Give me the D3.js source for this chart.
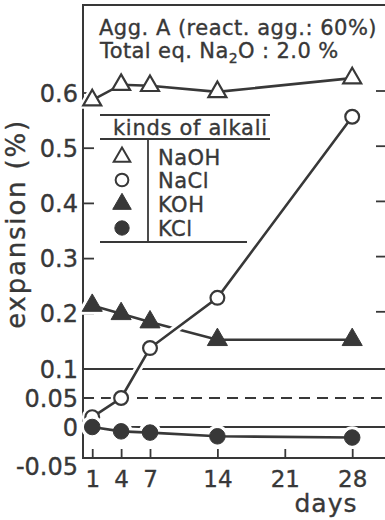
<!DOCTYPE html>
<html>
<head>
<meta charset="utf-8">
<script src="https://cdn.jsdelivr.net/npm/d3@7"></script>
<style>
  html, body { margin: 0; padding: 0; background: #fff; }
  svg { display: block; }
  text { font-family: "DejaVu Sans", sans-serif; fill: #383838; stroke: #383838; stroke-width: 0.35px; }
</style>
</head>
<body>
<svg id="chart" width="385" height="520"></svg>
<script>
// expansion (%) against age (days), one series per kind of alkali
var days = [1, 4, 7, 14, 28]
var naoh = [0.587, 0.615, 0.613, 0.602, 0.627]
var nacl = [0.017, 0.05, 0.138, 0.229, 0.557]
var koh = [0.215, 0.2, 0.185, 0.153, 0.153]
var kcl = [0.0, -0.007, -0.009, -0.015, -0.017]

var xTicks = [1, 4, 7, 14, 21, 28]
var yTicks = [0.6, 0.5, 0.4, 0.3, 0.2]
var yRefLines = [0.1, 0.05, 0]
var yLabels = ['0.6', '0.5', '0.4', '0.3', '0.2', '0.1', '0.05', '0', '-0.05']
var yLabelValues = [0.6, 0.5, 0.4, 0.3, 0.2, 0.1, 0.05, 0, -0.05]

var alkaliNames = ['NaOH', 'NaCl', 'KOH', 'KCl']

var ink = '#383838'
var svg = d3.select('#chart')

var x = d3.scaleLinear().domain([0, 28]).range([82.6, 352.2])
// the drawing is slightly stretched below 0.1
var y = d3.scaleLinear().domain([-0.05, 0, 0.1, 0.6]).range([458, 427, 369, 93])

var frameL = 83
var frameR = 386
var frameT = 5
var frameB = 458

// reference lines at 0.1, 0.05 and 0
svg.append('g')
  .selectAll('line')
  .data(yRefLines)
  .enter()
  .append('line')
  .attr('x1', frameL)
  .attr('x2', frameR)
  .attr('y1', (d) => y(d))
  .attr('y2', (d) => y(d))
  .attr('stroke', ink)
  .attr('stroke-width', 1.8)
  .attr('stroke-dasharray', (d) => d === 0.05 ? '11,7' : null)

// frame
svg.append('path')
  .attr('d', 'M' + frameR + ',' + frameT + 'H' + frameL + 'V' + frameB + 'H' + frameR)
  .attr('stroke', ink).attr('stroke-width', 2).attr('fill', 'none')

// inward ticks on left and right side
svg.append('g')
  .selectAll('line')
  .data(yTicks)
  .enter()
  .append('line')
  .attr('x1', frameL)
  .attr('x2', frameL + 11)
  .attr('y1', (d) => y(d))
  .attr('y2', (d) => y(d))
  .attr('stroke', ink)
  .attr('stroke-width', 1.8)

svg.append('g')
  .selectAll('line')
  .data(yTicks)
  .enter()
  .append('line')
  .attr('x1', 376)
  .attr('x2', frameR)
  .attr('y1', (d) => y(d) - 2)
  .attr('y2', (d) => y(d) - 2)
  .attr('stroke', ink)
  .attr('stroke-width', 1.8)

// y labels
svg.append('g')
  .selectAll('text')
  .data(yLabelValues)
  .enter()
  .append('text')
  .attr('x', 78)
  .attr('y', (d) => y(d) + (d === -0.05 ? 8 : 0))
  .attr('dy', '0.36em')
  .attr('text-anchor', 'end')
  .style('font-size', '24px')
  .text((d, i) => yLabels[i])

// x axis
var xAxis = d3.axisBottom(x).tickValues(xTicks).tickSizeInner(-9).tickSizeOuter(0).tickPadding(13)
var gx = svg.append('g').attr('transform', 'translate(0,' + frameB + ')').call(xAxis)
gx.select('.domain').remove()
gx.selectAll('.tick line').attr('stroke', ink).attr('stroke-width', 1.8)
gx.selectAll('.tick text').attr('fill', ink).style('font-size', '23px')
  .style('font-family', '"DejaVu Sans", sans-serif')

svg.append('text')
  .attr('x', 326)
  .attr('y', 512)
  .attr('text-anchor', 'middle')
  .style('font-size', '25px')
  .style('letter-spacing', '1px')
  .text('days')

svg.append('text')
  .attr('transform', 'translate(25,224) rotate(-90)')
  .attr('text-anchor', 'middle')
  .style('font-size', '26px')
  .style('letter-spacing', '1.8px')
  .text('expansion (%)')

// title
svg.append('text').attr('x', 99).attr('y', 35).style('font-size', '21px')
  .style('letter-spacing', '0.5px')
  .text('Agg. A (react. agg.: 60%)')
var t2 = svg.append('text').attr('x', 100).attr('y', 58).style('font-size', '21px')
  .style('letter-spacing', '0.4px')
t2.append('tspan').text('Total eq. Na')
t2.append('tspan').attr('dy', 5).style('font-size', '14px').text('2')
t2.append('tspan').attr('dy', -5).text('O : 2.0 %')

// series
var series = [
  { name: 'NaOH', values: naoh, shape: d3.symbolTriangle, filled: false },
  { name: 'KOH', values: koh, shape: d3.symbolTriangle, filled: true },
  { name: 'NaCl', values: nacl, shape: d3.symbolCircle, filled: false },
  { name: 'KCl', values: kcl, shape: d3.symbolCircle, filled: true }
]

function symbolPath (s, big) {
  var size = s.shape === d3.symbolCircle ? (s.filled ? 190 : 150) : (s.filled ? 175 : 140)
  if (!big) size = size * 0.85
  return d3.symbol().type(s.shape).size(size)()
}

var line = d3.line()
  .x((d) => x(d[0]))
  .y((d) => y(d[1]))

series.forEach((s) => {
  var pts = days.map((d, i) => [d, s.values[i]])
  var g = svg.append('g').attr('class', 'series')
  // white halo so the line cuts through what lies below it
  g.append('path').attr('d', line(pts)).attr('fill', 'none')
    .attr('stroke', '#fff').attr('stroke-width', 8)
  g.selectAll('.halo').data(pts).enter().append('path')
    .attr('class', 'halo')
    .attr('transform', (d) => 'translate(' + x(d[0]) + ',' + y(d[1]) + ')')
    .attr('d', symbolPath(s, true))
    .attr('fill', '#fff').attr('stroke', '#fff').attr('stroke-width', 7)
  g.append('path').attr('d', line(pts)).attr('fill', 'none')
    .attr('stroke', ink).attr('stroke-width', 2.6)
  g.selectAll('.mark').data(pts).enter().append('path')
    .attr('class', 'mark')
    .attr('transform', (d) => 'translate(' + x(d[0]) + ',' + y(d[1]) + ')')
    .attr('d', symbolPath(s, true))
    .attr('fill', s.filled ? ink : '#fff')
    .attr('stroke', ink)
    .attr('stroke-width', s.filled ? 1 : 2.2)
})

// legend table
var lg = svg.append('g')
var rule = (x1, y1, x2, y2) => lg.append('line').attr('x1', x1).attr('y1', y1).attr('x2', x2).attr('y2', y2)
  .attr('stroke', ink).attr('stroke-width', 1.8)
rule(100, 115, 270, 115)
rule(100, 139, 270, 139)
rule(148, 139, 148, 242)
rule(100, 242, 247, 242)

lg.append('text').attr('x', 113).attr('y', 135).style('font-size', '21px')
  .style('letter-spacing', '0.7px').text('kinds of alkali')

var legendRows = alkaliNames.map((n) => series.find((s) => s.name === n))
var rowY = [157, 180, 204, 228]
legendRows.forEach((s, i) => {
  lg.append('path')
    .attr('transform', 'translate(122,' + rowY[i] + ')')
    .attr('d', symbolPath(s, false))
    .attr('fill', s.filled ? ink : '#fff')
    .attr('stroke', ink)
    .attr('stroke-width', s.filled ? 1 : 2)
  lg.append('text').attr('x', 158).attr('y', rowY[i]).attr('dy', '0.36em')
    .style('font-size', '21px').style('letter-spacing', '0.5px').text(s.name)
})
</script>
</body>
</html>
